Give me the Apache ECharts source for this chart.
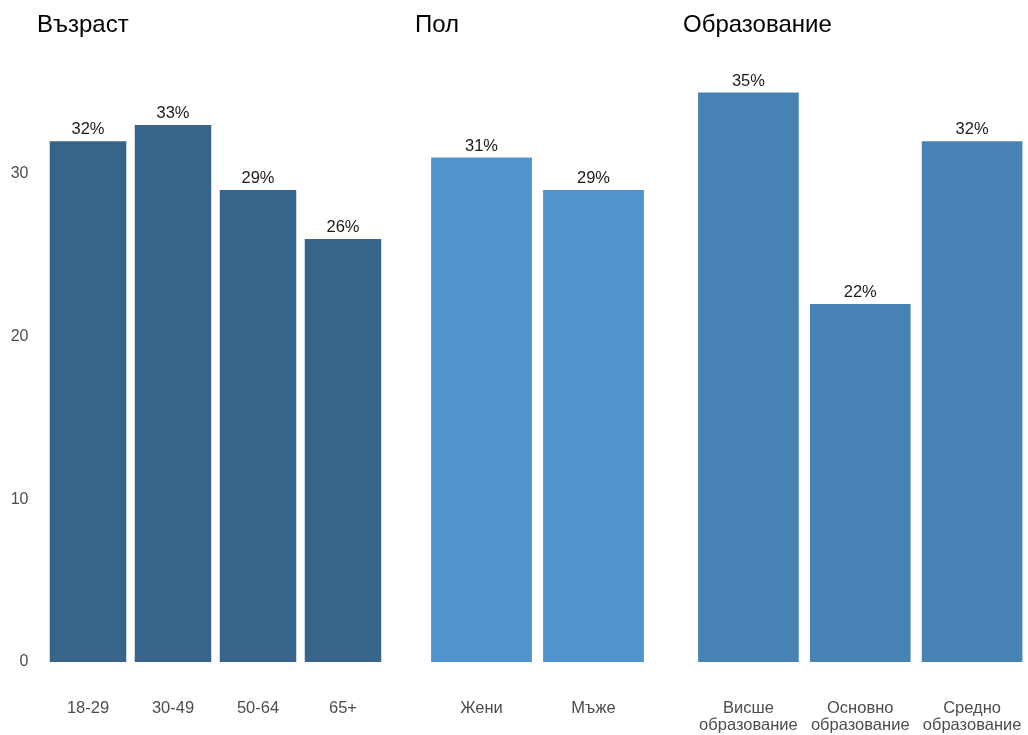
<!DOCTYPE html>
<html><head><meta charset="utf-8">
<script src="https://cdn.jsdelivr.net/npm/echarts@6/dist/echarts.min.js"></script>
<style>html,body{margin:0;padding:0;background:#fff}#c{width:1028px;height:735px}</style>
</head><body><div id="c"></div>
<script>
const ageCats = ['18-29', '30-49', '50-64', '65+'];
const ageVals = [32, 33, 29, 26];
const sexCats = ['Жени', 'Мъже'];
const sexVals = [31, 29];
const eduCats = ['Висше\nобразование', 'Основно\nобразование', 'Средно\nобразование'];
const eduVals = [35, 22, 32];
const titles = ['Възраст', 'Пол', 'Образование'];
const yTicks = [0, 10, 20, 30];

const FONT = 'Liberation Sans, Arial, sans-serif';
const chart = echarts.init(document.getElementById('c'));
const gTop = 64, gBottom = 735 - 662;
const grids = [
  {left: 45.5, width: 340, top: gTop, bottom: gBottom},
  {left: 425.5, width: 224, top: gTop, bottom: gBottom},
  {left: 692.5, width: 336, top: gTop, bottom: gBottom}
];
const panels = [
  {cats: ageCats, vals: ageVals, color: '#36648B'},
  {cats: sexCats, vals: sexVals, color: '#4F94CD'},
  {cats: eduCats, vals: eduVals, color: '#4682B4'}
];
const titleX = [37, 415, 683];
chart.setOption({
  animation: false,
  textStyle: {fontFamily: FONT},
  title: titles.map((t, i) => ({text: t, left: titleX[i], top: 13, padding: 0,
    textStyle: {fontFamily: FONT, fontSize: 24, fontWeight: 'normal', color: '#000'}})),
  grid: grids,
  xAxis: panels.map((p, i) => ({type: 'category', gridIndex: i, data: p.cats,
    axisLine: {show: false}, axisTick: {show: false},
    axisLabel: {interval: 0, hideOverlap: false, color: '#4d4d4d', fontSize: 16.5, margin: 38,
      lineHeight: 17, fontFamily: FONT}})),
  yAxis: panels.map((p, i) => ({type: 'value', gridIndex: i, min: 0, max: 36.75, interval: 10,
    splitLine: {show: false}, axisLine: {show: false}, axisTick: {show: false},
    axisLabel: {show: i === 0, color: '#4d4d4d', fontSize: 16, margin: 17, fontFamily: FONT,
      customValues: yTicks}})),
  series: panels.map((p, i) => ({type: 'bar', xAxisIndex: i, yAxisIndex: i, data: p.vals,
    barCategoryGap: '10%', itemStyle: {color: p.color},
    label: {show: true, position: 'top', distance: 3, formatter: '{c}%', color: '#1a1a1a',
      fontSize: 16.5, fontFamily: FONT}}))
});
</script></body></html>
